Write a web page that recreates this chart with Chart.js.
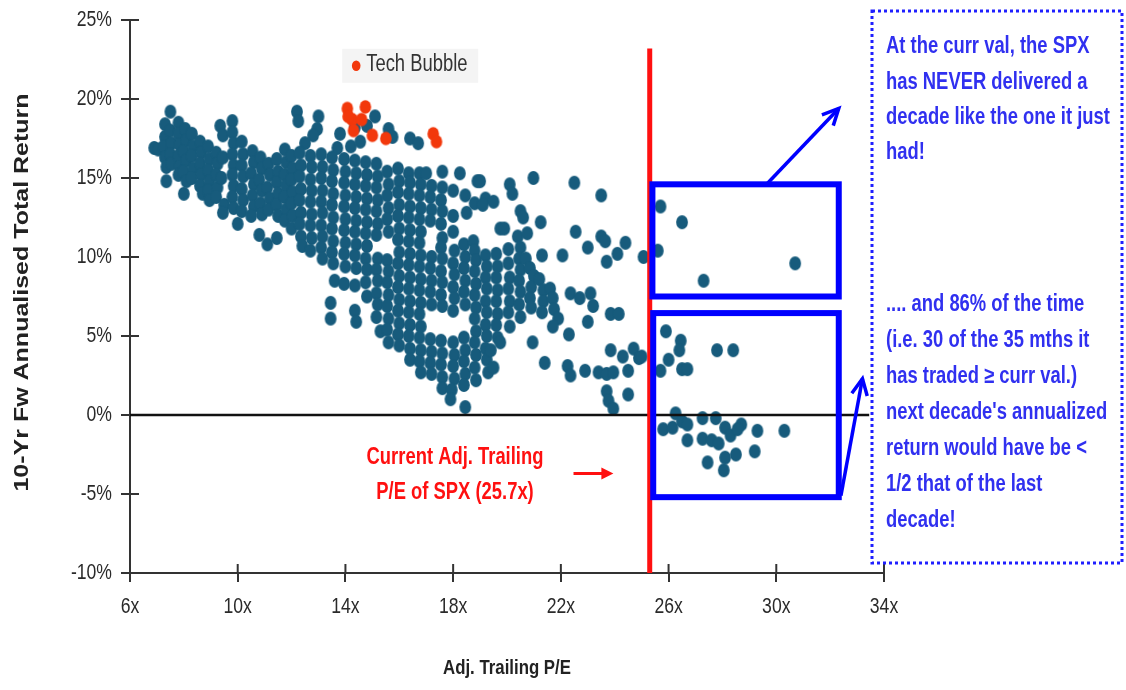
<!DOCTYPE html>
<html lang="en">
<head>
  <meta charset="UTF-8" />
  <title>P/E vs 10-Yr Forward Return</title>
  <script src="https://cdn.jsdelivr.net/npm/chart.js"></script>
  <style>
    html, body { margin: 0; padding: 0; background: #fff; }
    canvas { display: block; }
  </style>
</head>
<body>
  <canvas id="peChart" width="1126" height="690"></canvas>

  <script>
    // axis ticks
    const peTicks = [6, 10, 14, 18, 22, 26, 30, 34];
    const retTicks = [-10, -5, 0, 5, 10, 15, 20, 25];

    // [trailing P/E, 10-yr fwd annualised return %]
    const techBubble = [
      [14.07, 19.4], [14.74, 19.5], [14.25, 18.7], [14.6, 18.7], [14.3, 18.0],
      [15.0, 17.7], [15.5, 17.5], [17.26, 17.8], [17.38, 17.3], [14.1, 18.9]
    ];

    const history = [
      [6.9, 16.9], [7.05, 16.8],
      [7.3, 18.4], [7.3, 17.6], [7.25, 17.0], [7.3, 16.3], [7.35, 15.7], [7.35, 14.8],
      [7.5, 19.2], [7.5, 18.0], [7.55, 17.2], [7.5, 16.5], [7.55, 15.9],
      [7.8, 18.5], [7.8, 17.8], [7.85, 17.1], [7.8, 16.4], [7.85, 15.7], [7.8, 15.2],
      [8.05, 18.1], [8.1, 17.4], [8.0, 16.7], [8.1, 16.1], [8.0, 15.4], [8.1, 14.8], [8.0, 14.0],
      [8.3, 17.8], [8.35, 17.0], [8.3, 16.4], [8.35, 15.6], [8.3, 15.0],
      [8.6, 17.3], [8.65, 16.6], [8.6, 15.9], [8.65, 15.2], [8.6, 14.5], [8.7, 14.0],
      [8.9, 17.0], [8.95, 16.2], [8.9, 15.5], [8.95, 14.8], [8.9, 14.2], [8.95, 13.6],
      [9.2, 16.6], [9.25, 15.9], [9.2, 15.2], [9.25, 14.4], [9.2, 13.8],
      [9.35, 18.3], [9.45, 17.7], [9.45, 16.3], [9.4, 15.0], [9.5, 13.3], [9.45, 12.8],
      [9.8, 18.6], [9.8, 17.9], [9.85, 17.2], [9.8, 16.5], [9.85, 15.8], [9.8, 15.2], [9.85, 14.5], [9.8, 13.8], [9.85, 13.1], [10.0, 12.1],
      [10.15, 17.3], [10.2, 16.5], [10.15, 15.8], [10.2, 15.1], [10.15, 14.3], [10.2, 13.6], [10.15, 12.9],
      [10.55, 16.7], [10.6, 16.0], [10.5, 15.3], [10.6, 14.6], [10.55, 13.9], [10.6, 13.2], [10.5, 12.6],
      [10.85, 16.3], [10.9, 15.6], [10.8, 14.9], [10.9, 14.2], [10.85, 13.4], [10.9, 12.7], [10.8, 11.4],
      [11.15, 15.9], [11.2, 15.2], [11.1, 14.4], [11.2, 13.7], [11.15, 13.0], [11.1, 10.8],
      [11.45, 16.2], [11.5, 15.4], [11.45, 14.7], [11.5, 14.0], [11.45, 13.3], [11.5, 12.6], [11.45, 11.2],
      [11.75, 16.8], [11.8, 16.0], [11.75, 15.2], [11.8, 14.5], [11.75, 13.8], [11.8, 13.0], [11.75, 12.3],
      [12.2, 19.2], [12.25, 18.6], [13.0, 18.9], [12.95, 18.1], [12.8, 17.7], [12.5, 17.2], [13.8, 17.8],
      [14.2, 17.0], [13.7, 16.9], [14.35, 18.2], [14.55, 17.3], [14.8, 18.3], [15.1, 18.9], [15.6, 18.1],
      [15.75, 17.6], [16.4, 17.5], [16.7, 17.2],
      [12.0, 16.4], [12.05, 15.6], [12.0, 14.9], [12.05, 14.1], [12.0, 13.4], [12.05, 12.6], [12.0, 11.8],
      [12.3, 16.6], [12.35, 15.8], [12.3, 15.1], [12.35, 14.3], [12.3, 13.6], [12.35, 12.8], [12.3, 12.1], [12.35, 11.3], [12.4, 10.7],
      [12.7, 16.4], [12.75, 15.7], [12.7, 14.9], [12.75, 14.2], [12.7, 13.5], [12.75, 12.7], [12.7, 12.0], [12.75, 11.2], [12.7, 10.4],
      [13.1, 16.5], [13.15, 15.7], [13.1, 15.0], [13.15, 14.2], [13.1, 13.5], [13.15, 12.8], [13.1, 12.0], [13.15, 11.3], [13.1, 10.6], [13.15, 9.9],
      [13.5, 16.3], [13.55, 15.5], [13.5, 14.8], [13.55, 14.0], [13.5, 13.3], [13.55, 12.5], [13.5, 11.8], [13.55, 11.0], [13.5, 10.3], [13.55, 9.6], [13.6, 8.5], [13.45, 7.1], [13.45, 6.1],
      [13.95, 16.2], [14.0, 15.4], [13.95, 14.7], [14.0, 13.9], [13.95, 13.2], [14.0, 12.4], [13.95, 11.7], [14.0, 10.9], [13.95, 10.2], [14.0, 9.4], [13.95, 8.3],
      [14.35, 16.1], [14.4, 15.3], [14.35, 14.6], [14.4, 13.8], [14.35, 13.1], [14.4, 12.3], [14.35, 11.6], [14.4, 10.8], [14.35, 10.1], [14.4, 9.3], [14.35, 8.2], [14.35, 6.6], [14.4, 5.9],
      [14.75, 16.0], [14.8, 15.2], [14.75, 14.5], [14.8, 13.7], [14.75, 13.0], [14.8, 12.2], [14.75, 11.5], [14.8, 10.7], [14.75, 9.9], [14.8, 9.2], [14.75, 8.4], [14.8, 7.5],
      [15.15, 15.9], [15.2, 15.1], [15.15, 14.4], [15.2, 13.6], [15.15, 12.9], [15.2, 12.1], [15.15, 11.4], [15.2, 9.9], [15.15, 9.2], [15.2, 8.5], [15.15, 7.7], [15.2, 7.0], [15.15, 6.2], [15.3, 5.3],
      [15.55, 15.4], [15.6, 14.6], [15.55, 13.9], [15.6, 13.1], [15.55, 12.4], [15.6, 11.6], [15.55, 9.8], [15.6, 9.1], [15.55, 8.4], [15.6, 7.6], [15.55, 6.9], [15.6, 6.1], [15.55, 5.4], [15.6, 4.6],
      [15.95, 15.6], [16.0, 14.8], [15.95, 14.1], [16.0, 13.3], [15.95, 12.6], [16.0, 11.8], [15.95, 11.1], [16.0, 10.3], [15.95, 9.6], [16.0, 8.8], [15.95, 8.1], [16.0, 7.3], [15.95, 6.6], [16.0, 5.8], [15.95, 5.1], [16.0, 4.4],
      [16.35, 15.3], [16.4, 14.7], [16.35, 14.0], [16.4, 13.2], [16.35, 12.5], [16.4, 11.7], [16.35, 11.0], [16.4, 10.2], [16.35, 9.5], [16.4, 8.7], [16.35, 8.0], [16.4, 7.2], [16.35, 6.5], [16.4, 5.7], [16.35, 5.0], [16.4, 4.2], [16.4, 3.5],
      [16.75, 15.3], [16.8, 14.6], [16.75, 13.9], [16.8, 13.1], [16.75, 12.4], [16.8, 11.6], [16.75, 10.9], [16.8, 10.1], [16.75, 9.4], [16.8, 8.6], [16.75, 7.9], [16.8, 7.1], [16.75, 6.4], [16.8, 5.6], [16.75, 4.9], [16.8, 4.1], [16.75, 3.4], [16.8, 2.7],
      [17.0, 15.3], [17.2, 14.5], [17.15, 13.8], [17.2, 13.0], [17.15, 12.3], [17.2, 10.0], [17.15, 9.3], [17.2, 8.5], [17.15, 7.8], [17.2, 7.0], [17.15, 4.8], [17.2, 4.0], [17.15, 3.3], [17.2, 2.6],
      [17.6, 15.4], [17.6, 14.4], [17.55, 13.6], [17.6, 12.9], [17.55, 12.1], [17.6, 11.2], [17.55, 10.6], [17.6, 9.9], [17.55, 9.1], [17.6, 8.4], [17.55, 7.6], [17.6, 6.9], [17.55, 4.7], [17.6, 3.9], [17.55, 3.2], [17.6, 2.4], [17.6, 1.7],
      [18.0, 14.2], [18.0, 12.6], [18.0, 11.6], [18.05, 10.4], [18.0, 9.6], [18.05, 8.9], [18.0, 8.1], [18.05, 7.4], [18.0, 6.6], [18.0, 4.6], [18.05, 3.8], [18.0, 3.1], [18.05, 2.3], [17.95, 1.6], [17.9, 1.0],
      [18.25, 15.3], [18.45, 13.9], [18.5, 12.8], [18.4, 10.8], [18.45, 10.0], [18.4, 9.3], [18.45, 8.5], [18.4, 7.8], [18.45, 7.0], [18.4, 4.9], [18.45, 4.1], [18.4, 3.4], [18.45, 2.6], [18.4, 1.9], [18.45, 0.5],
      [18.9, 14.8], [18.8, 13.4], [18.75, 11.0], [18.8, 10.4], [18.85, 9.8], [18.8, 9.1], [18.85, 8.3], [18.8, 7.6], [18.85, 6.8], [18.8, 6.1], [18.85, 5.3], [18.8, 4.6], [18.85, 3.8], [18.8, 3.0], [18.85, 2.2],
      [19.0, 14.8], [19.2, 13.7], [19.1, 13.3], [19.2, 10.1], [19.25, 9.4], [19.2, 8.7], [19.25, 8.0], [19.2, 7.2], [19.25, 6.5], [19.2, 5.7], [19.25, 5.0], [19.2, 4.2], [19.25, 3.5], [19.3, 2.7],
      [19.5, 13.5], [19.75, 11.8], [19.6, 10.2], [19.65, 9.4], [19.6, 8.7], [19.65, 7.9], [19.6, 7.2], [19.65, 6.4], [19.6, 5.7], [19.65, 4.9], [19.75, 4.6], [19.5, 3.0], [19.4, 4.1],
      [20.1, 14.6], [20.2, 14.0], [19.9, 11.8], [20.05, 10.5], [20.05, 9.6], [20.1, 8.7], [20.05, 8.0], [20.1, 7.2], [20.05, 6.5], [20.1, 5.6],
      [20.5, 12.9], [20.6, 12.5], [20.4, 11.3], [20.5, 10.6], [20.45, 9.9], [20.5, 9.2], [20.45, 8.5], [20.5, 7.8], [20.45, 7.0], [20.5, 6.2],
      [20.98, 15.0], [20.75, 11.5], [20.7, 9.9], [20.85, 9.3], [21.0, 8.8], [20.9, 8.1], [20.85, 7.4], [20.9, 6.8], [20.95, 4.6],
      [21.25, 12.2], [21.3, 10.1], [21.2, 8.6], [21.35, 7.9], [21.35, 7.2], [21.3, 6.5], [21.4, 3.3],
      [21.6, 8.0], [21.7, 7.4], [21.75, 6.7], [21.9, 6.1], [21.7, 5.6],
      [22.06, 10.1], [22.36, 7.7], [22.3, 5.1], [22.25, 3.1], [22.36, 2.5], [22.5, 14.7], [22.55, 11.6],
      [22.7, 7.4], [22.9, 2.8], [23.0, 10.6], [23.0, 5.9], [23.1, 7.7], [23.2, 6.9], [23.4, 2.7],
      [23.5, 13.9], [23.5, 11.3], [23.65, 11.0], [23.7, 9.7], [23.7, 2.6], [23.7, 1.5], [23.77, 0.9],
      [23.85, 6.4], [23.85, 4.1], [23.95, 2.7], [23.95, 0.4], [24.1, 10.2], [24.15, 6.4], [24.3, 3.7],
      [24.4, 10.9], [24.5, 2.8], [24.5, 1.3], [24.7, 4.2], [24.9, 3.6], [25.07, 10.0],
      [25.7, 13.2], [26.5, 12.2], [25.6, 10.4], [27.3, 8.5], [30.7, 9.6],
      [25.9, 5.3], [26.45, 4.7], [26.4, 4.1], [26.0, 3.5], [25.7, 2.8], [26.5, 2.9], [26.7, 2.9],
      [25.0, 3.7], [27.8, 4.1], [28.4, 4.1],
      [26.26, 0.1], [25.8, -0.9], [26.15, -0.8], [26.5, -0.4], [26.7, -0.6], [26.7, -1.6], [27.26, -0.2],
      [27.26, -1.5], [27.75, -0.2], [27.6, -1.6], [27.86, -1.8], [28.1, -0.8], [28.3, -1.3], [28.7, -0.6],
      [28.56, -0.9], [28.5, -2.5], [28.1, -2.7], [29.3, -1.0], [29.2, -2.3], [30.3, -1.0], [27.45, -3.0], [28.05, -3.5]
    ];

    // annotation positions, in axis units
    const currentLinePE = 25.3;
    const upperBox = { x0: 25.4, x1: 32.32, y0: 7.5, y1: 14.6 };
    const lowerBox = { x0: 25.43, x1: 32.32, y0: -5.2, y1: 6.45 };

    const SANS = "'Liberation Sans', Arial, sans-serif";
    const SQ = 0.8;          // the original art is squeezed horizontally
    const RED = '#ff1010';
    const INK = '#2a2a2a';

    // slightly tall dots, like the original
    function dotImage(color, rx, ry) {
      const c = document.createElement('canvas');
      c.width = Math.ceil(rx * 2) + 2;
      c.height = Math.ceil(ry * 2) + 2;
      const g = c.getContext('2d');
      g.fillStyle = color;
      g.beginPath();
      g.ellipse(c.width / 2, c.height / 2, rx, ry, 0, 0, Math.PI * 2);
      g.fill();
      return c;
    }

    function line(ctx, x1, y1, x2, y2) {
      ctx.beginPath();
      ctx.moveTo(x1, y1);
      ctx.lineTo(x2, y2);
      ctx.stroke();
    }

    function openArrow(ctx, x1, y1, x2, y2, head) {
      const a = Math.atan2(y2 - y1, x2 - x1);
      line(ctx, x1, y1, x2, y2);
      ctx.beginPath();
      ctx.moveTo(x2 - head * Math.cos(a - 0.45), y2 - head * Math.sin(a - 0.45));
      ctx.lineTo(x2, y2);
      ctx.lineTo(x2 - head * Math.cos(a + 0.45), y2 - head * Math.sin(a + 0.45));
      ctx.stroke();
    }

    function squeezed(ctx, text, x, y, font, color, align) {
      ctx.save();
      ctx.font = font;
      ctx.fillStyle = color;
      ctx.textAlign = align;
      ctx.textBaseline = 'middle';
      ctx.translate(x, y);
      ctx.scale(SQ, 1);
      ctx.fillText(text, 0, 0);
      ctx.restore();
    }

    const overlay = {
      id: 'overlay',
      afterDraw(chart) {
        const { ctx, chartArea: area, scales: { x, y } } = chart;
        ctx.save();

        // tick marks reaching into the plot
        ctx.strokeStyle = '#333';
        ctx.lineWidth = 2;
        peTicks.forEach(v => {
          const px = x.getPixelForValue(v);
          line(ctx, px, area.bottom, px, area.bottom - 9);
        });
        retTicks.forEach(v => {
          const py = y.getPixelForValue(v);
          line(ctx, area.left, py, area.left + 9, py);
        });

        // tick labels and axis titles
        peTicks.forEach(v => squeezed(ctx, v + 'x', x.getPixelForValue(v), 607, '22px ' + SANS, INK, 'center'));
        retTicks.forEach(v => squeezed(ctx, v + '%', 112, y.getPixelForValue(v), '22px ' + SANS, INK, 'right'));
        squeezed(ctx, 'Adj. Trailing P/E', (area.left + area.right) / 2, 668, 'bold 21px ' + SANS, '#222', 'center');
        ctx.save();
        ctx.translate(22, (area.top + area.bottom) / 2 - 4);
        ctx.rotate(-Math.PI / 2);
        ctx.scale(1, SQ);
        ctx.font = 'bold 25px ' + SANS;
        ctx.fillStyle = '#222';
        ctx.textAlign = 'center';
        ctx.textBaseline = 'middle';
        ctx.fillText('10-Yr Fw Annualised Total Return', 0, 0);
        ctx.restore();

        // zero line
        const y0 = y.getPixelForValue(0);
        ctx.strokeStyle = '#111';
        ctx.lineWidth = 2.5;
        line(ctx, area.left, y0, x.getPixelForValue(33.45), y0);

        // current P/E line
        const xc = x.getPixelForValue(currentLinePE);
        ctx.strokeStyle = RED;
        ctx.lineWidth = 5;
        line(ctx, xc, y.getPixelForValue(23.2), xc, area.bottom);

        // blue boxes
        ctx.strokeStyle = '#0000ff';
        ctx.lineWidth = 6;
        [upperBox, lowerBox].forEach(b => {
          const l = x.getPixelForValue(b.x0), r = x.getPixelForValue(b.x1);
          const t = y.getPixelForValue(b.y1), btm = y.getPixelForValue(b.y0);
          ctx.strokeRect(l, t, r - l, btm - t);
        });

        // arrows to the notes
        ctx.lineWidth = 3.5;
        openArrow(ctx, x.getPixelForValue(29.64), y.getPixelForValue(14.6),
                  x.getPixelForValue(32.32), y.getPixelForValue(19.4), 18);
        openArrow(ctx, x.getPixelForValue(32.4), y.getPixelForValue(-5.1),
                  x.getPixelForValue(33.2), y.getPixelForValue(2.3), 18);

        // red label + arrow
        squeezed(ctx, 'Current Adj. Trailing', 455, 458, 'bold 23px ' + SANS, RED, 'center');
        squeezed(ctx, 'P/E of SPX (25.7x)', 455, 493, 'bold 23px ' + SANS, RED, 'center');
        ctx.strokeStyle = RED;
        ctx.fillStyle = RED;
        ctx.lineWidth = 3;
        const ay = y.getPixelForValue(-3.7);
        const ax1 = x.getPixelForValue(22.47), ax2 = x.getPixelForValue(23.95);
        line(ctx, ax1, ay, ax2 - 8, ay);
        ctx.beginPath();
        ctx.moveTo(ax2, ay);
        ctx.lineTo(ax2 - 12, ay - 6);
        ctx.lineTo(ax2 - 12, ay + 6);
        ctx.closePath();
        ctx.fill();

        // legend
        const lx = x.getPixelForValue(14.4), ly = y.getPixelForValue(22.1);
        ctx.fillStyle = '#f4f4f4';
        ctx.fillRect(lx - 14, ly - 17, 136, 34);
        ctx.fillStyle = '#f2380c';
        ctx.beginPath();
        ctx.ellipse(lx, ly, 4.3, 5.3, 0, 0, Math.PI * 2);
        ctx.fill();
        squeezed(ctx, 'Tech Bubble', lx + 10, ly - 1, '23px ' + SANS, '#333', 'left');

        // dotted notes panel
        ctx.strokeStyle = '#1f1fff';
        ctx.lineWidth = 3;
        ctx.setLineDash([3, 3]);
        ctx.strokeRect(872, 11, 250, 552);
        ctx.setLineDash([]);

        const noteFont = 'bold 23px ' + SANS, noteColor = '#3030f0';
        const note1 = ['At the curr val, the SPX', 'has NEVER delivered a', 'decade like the one it just', 'had!'];
        note1.forEach((t, i) => squeezed(ctx, t, 886, 47 + i * 35.3, noteFont, noteColor, 'left'));
        const note2 = ['.... and 86% of the time', '(i.e. 30 of the 35 mths it', 'has traded \u2265 curr val.)',
                       "next decade's annualized", 'return would have be <', '1/2 that of the last', 'decade!'];
        note2.forEach((t, i) => squeezed(ctx, t, 886, 305 + i * 36, noteFont, noteColor, 'left'));

        ctx.restore();
      }
    };

    new Chart(document.getElementById('peChart'), {
      type: 'scatter',
      data: {
        datasets: [
          {
            label: 'Tech Bubble',
            data: techBubble.map(([px, py]) => ({ x: px, y: py })),
            pointStyle: dotImage('#f2380c', 5.8, 6.8),
            pointRadius: 6
          },
          {
            label: 'History',
            data: history.map(([px, py]) => ({ x: px, y: py })),
            pointStyle: dotImage('#175b7c', 5.9, 6.9),
            pointRadius: 6
          }
        ]
      },
      options: {
        responsive: false,
        animation: false,
        layout: { padding: { top: 20, right: 242, left: 0, bottom: 0 } },
        plugins: {
          legend: { display: false },
          tooltip: { enabled: false }
        },
        scales: {
          x: {
            type: 'linear',
            min: 6,
            max: 34,
            afterBuildTicks: s => { s.ticks = peTicks.map(v => ({ value: v })); },
            afterFit: s => { s.height = 117; },
            ticks: { display: false },
            grid: { drawOnChartArea: false, tickLength: 9, color: '#333', lineWidth: 2 },
            border: { color: '#333', width: 2 }
          },
          y: {
            min: -10,
            max: 25,
            afterBuildTicks: s => { s.ticks = retTicks.map(v => ({ value: v })); },
            afterFit: s => { s.width = 130; },
            ticks: { display: false },
            grid: { drawOnChartArea: false, tickLength: 9, color: '#333', lineWidth: 2 },
            border: { color: '#333', width: 2 }
          }
        }
      },
      plugins: [overlay]
    });
  </script>
</body>
</html>
